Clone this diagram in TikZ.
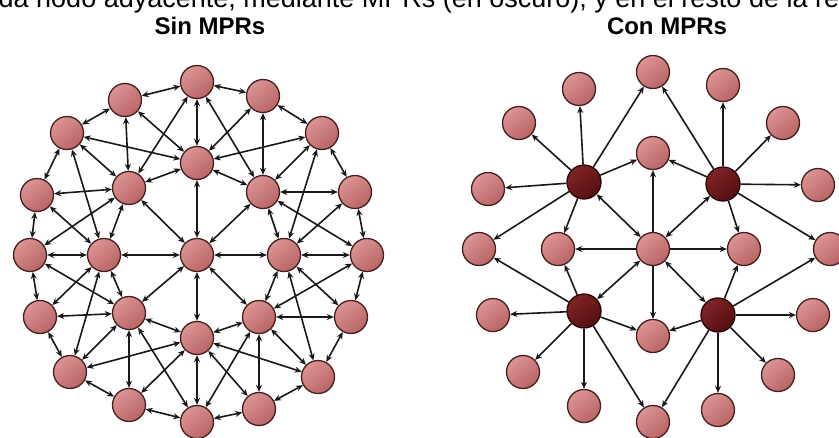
\documentclass[tikz,border=0pt]{standalone}
\usepackage{fontspec}
\setmainfont{Liberation Sans}
\usetikzlibrary{arrows.meta}

\definecolor{nodelight}{RGB}{220,148,148}
\definecolor{nodedark}{RGB}{184,100,100}
\definecolor{nodeedge}{RGB}{70,30,30}
\definecolor{mprlight}{RGB}{128,36,38}
\definecolor{mprdark}{RGB}{84,14,16}
\definecolor{mpredge}{RGB}{38,6,6}
\definecolor{linkcol}{RGB}{25,25,25}

\tikzset{
  peer/.style={circle, minimum size=33pt, inner sep=0pt, draw=nodeedge, line width=1.3pt,
    top color=nodelight, bottom color=nodedark, shading angle=40},
  mpr/.style={circle, minimum size=34pt, inner sep=0pt, draw=mpredge, line width=1.3pt,
    top color=mprlight, bottom color=mprdark, shading angle=40},
  link/.style={draw=linkcol, line width=1.6pt, >={Stealth[length=7pt,width=6pt]}},
  both/.style={link, <->},
  fwd/.style={link, ->},
  heading/.style={font=\bfseries\fontsize{24}{24}\selectfont, anchor=base, inner sep=0pt},
}

\begin{document}
\begin{tikzpicture}[x=1pt,y=-1pt]
\useasboundingbox (0,0) rectangle (839,437);
\fill[white] (0,0) rectangle (839,437);

% caption line running off the top edge
\begin{scope}
  \clip (0,0) rectangle (839,437);
  \node[anchor=base west, inner sep=0pt, font=\fontsize{27}{27}\selectfont] (caption) at (-30,7)
    {cada nodo adyacente, mediante MPRs (en oscuro), y en el resto de la red};
\end{scope}

\node[heading] (tleft) at (210,34) {Sin MPRs};
\node[heading] (tright) at (667,34) {Con MPRs};

% ---------------- flooding without MPRs ----------------
\node[peer] (C) at (197,255) {};
\foreach \n/\x/\y in {I0/197/163, I1/263/192, I2/284/255, I3/259/317,
                      I4/197/338, I5/129/313, I6/104/255, I7/129/188}
  \node[peer] (\n) at (\x,\y) {};
\foreach \n/\x/\y in {O0/197/82, O1/263/96, O2/322/133, O3/355/192,
                      O4/367/255, O5/351/317, O6/318/377, O7/259/409,
                      O8/197/422, O9/129/405, O10/70/372, O11/40/317,
                      O12/30/255, O13/37/195, O14/67/133, O15/125/100}
  \node[peer] (\n) at (\x,\y) {};

\foreach \a/\b in {O0/O1, O1/O2, O2/O3, O3/O4, O4/O5, O5/O6, O6/O7, O7/O8,
                   O8/O9, O9/O10, O10/O11, O11/O12, O12/O13, O13/O14, O14/O15, O15/O0,
                   % upper half
                   O0/I0, O0/I7, O0/I1, O15/I7, O15/I0, O1/I1, O1/I0,
                   O14/I0, O2/I0, O14/I7, O2/I1, O14/I6, O2/I2,
                   O13/I7, O3/I1, O13/I6, O3/I2,
                   I7/I0, I1/I0, I7/C, I1/C, I7/O12, I1/O4, I7/I6, I1/I2, I0/C,
                   % middle row
                   O12/I6, I6/C, C/I2, I2/O4,
                   % lower half
                   O8/I4, O8/I5, O8/I3, O9/I5, O9/I4, O7/I3, O7/I4,
                   O10/I4, O6/I4, O10/I5, O6/I3, O10/I6, O6/I2,
                   O11/I5, O5/I3, O11/I6, O5/I2,
                   I5/I4, I3/I4, I5/C, I3/C, I5/O12, I3/O4, I5/I6, I3/I2, I4/C}
  \draw[both] (\a) -- (\b);

% ---------------- flooding with MPRs ----------------
\node[peer] (RC) at (653,249) {};
\foreach \n/\x/\y in {Rt/653/153, Rl/558/249, Rr/744/249, Rb/653/336}
  \node[peer] (\n) at (\x,\y) {};
\node[mpr] (M1) at (584,182) {};
\node[mpr] (M2) at (723,184) {};
\node[mpr] (M3) at (584,311) {};
\node[mpr] (M4) at (718,315) {};
\foreach \n/\x/\y in {Q0/653/72, Q1/723/85, Q2/783/123, Q3/818/185,
                      Q4/830/249, Q5/813/315, Q6/778/375, Q7/718/410,
                      Q8/653/422, Q9/584/406, Q10/523/372, Q11/493/315,
                      Q12/479/249, Q13/488/189, Q14/519/123, Q15/579/89}
  \node[peer] (\n) at (\x,\y) {};

\foreach \m in {M1, M2, M3, M4}
  \draw[both] (\m) -- (RC);
\foreach \t in {Rt, Rl, Rr, Rb}
  \draw[fwd] (RC) -- (\t);
\foreach \t in {Q14, Q15, Q0, Rt, Q13, Q12, Rl}
  \draw[fwd] (M1) -- (\t);
\foreach \t in {Q0, Q1, Q2, Q3, Rt, Rr, Q4}
  \draw[fwd] (M2) -- (\t);
\foreach \t in {Q12, Rl, Q11, Q10, Q9, Rb, Q8}
  \draw[fwd] (M3) -- (\t);
\foreach \t in {Rr, Q4, Q5, Q6, Q7, Rb, Q8}
  \draw[fwd] (M4) -- (\t);
\end{tikzpicture}
\end{document}
